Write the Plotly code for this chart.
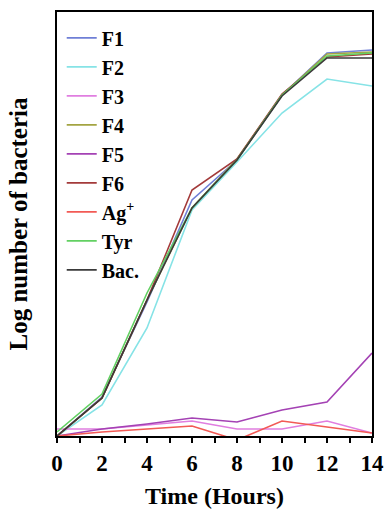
import plotly.graph_objects as go

time_h = [0, 2, 4, 6, 8, 10, 12, 14]

f1 = [0, 39, 134, 236, 276, 341, 383, 386]
f2 = [0, 31, 108, 226, 274, 323, 357, 350]
f3 = [7, 7, 11, 15, 7, 7, 15, 3]
f4 = [0, 38, 136, 228, 277, 341, 382, 384]
f5 = [0, 7, 12, 18, 14, 26, 34, 83]
f6 = [0, 38, 136, 246, 277, 342, 379, 382]
ag = [0, 4, 7, 10, -4, 15, 9, 3]
tyr = [4, 42, 143, 228, 276, 341, 380, 383]
bac = [0, 38, 136, 228, 276, 340, 378, 378]

names = ["F1", "F2", "F3", "F4", "F5", "F6", "Ag<sup>+</sup>", "Tyr", "Bac."]
series = [f1, f2, f3, f4, f5, f6, ag, tyr, bac]
colors = ["#6f7fd6", "#86e3e6", "#e07ee0", "#a3a442", "#a442b4",
          "#a33a3a", "#f25a55", "#62d062", "#3a3a3a"]

fig = go.Figure()
for i, (nm, ys, c) in enumerate(zip(names, series, colors)):
    fig.add_trace(go.Scatter(x=time_h, y=ys, mode="lines", name=nm,
                             legendgroup=f"g{i}",
                             line=dict(color=c, width=1.6)))

ff = "Liberation Serif"
fig.update_layout(
    width=387, height=509,
    margin=dict(l=57, r=15, t=12, b=73),
    paper_bgcolor="white", plot_bgcolor="white",
    font=dict(family=ff, color="black", weight="bold"),
    showlegend=True,
    legend=dict(x=0.015, y=0.985, xanchor="left", yanchor="top",
                bgcolor="rgba(0,0,0,0)", tracegroupgap=0,
                font=dict(family=ff, size=20, color="black", weight="bold"),
                itemwidth=30),
    xaxis=dict(range=[0, 14], tickvals=[0, 2, 4, 6, 8, 10, 12, 14],
               automargin=False,
               ticks="outside", ticklen=5, tickwidth=1.5, tickcolor="black",
               minor=dict(dtick=1, ticks="outside", ticklen=5, tickwidth=1.5, tickcolor="black"),
               showline=True, mirror=True, linewidth=2, linecolor="black",
               showgrid=False, zeroline=False,
               tickfont=dict(family=ff, size=23, color="black", weight="bold"),
               title=dict(text="Time (Hours)", standoff=18,
                          font=dict(family=ff, size=24, color="black", weight="bold"))),
    yaxis=dict(range=[0, 424], showticklabels=False, ticks="",
               automargin=False,
               showline=True, mirror=True, linewidth=2, linecolor="black",
               showgrid=False, zeroline=False,
               title=dict(text="Log number of bacteria", standoff=20,
                          font=dict(family=ff, size=25, color="black", weight="bold"))),
)

fig.write_html("out.html", config={"displayModeBar": False},
               post_script="document.body.style.margin='0';")
